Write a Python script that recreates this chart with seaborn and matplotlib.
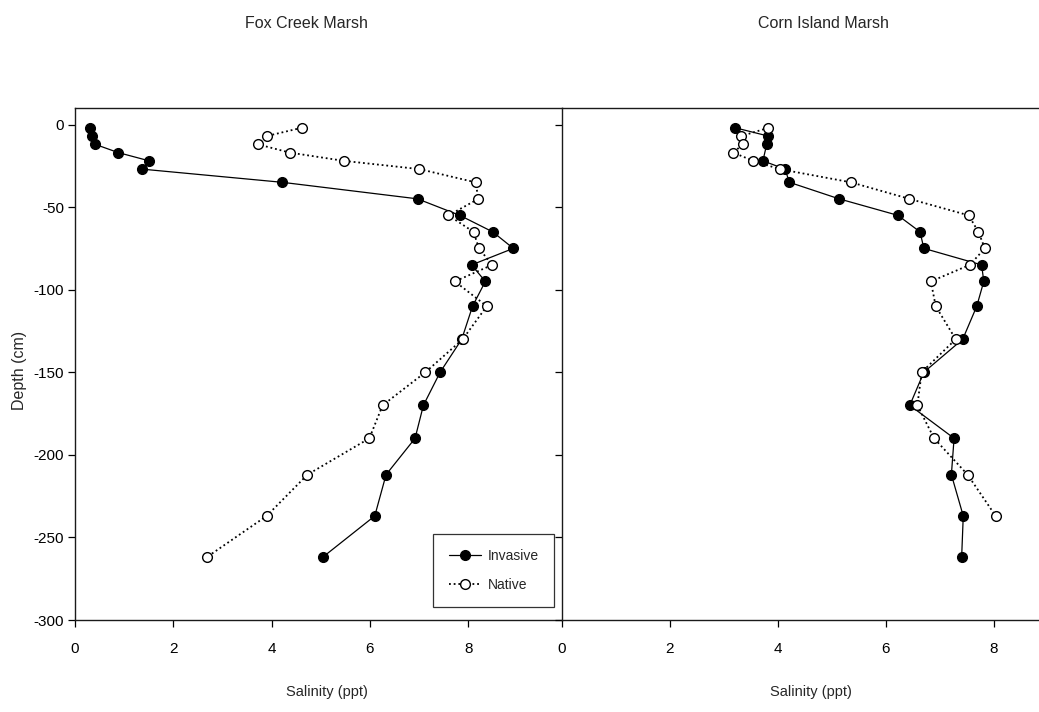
import matplotlib
matplotlib.use("Agg")
import matplotlib.pyplot as plt
from matplotlib import font_manager
from matplotlib.lines import Line2D
import numpy as np
import pandas as pd
import seaborn as sns

# Pore-water salinity profiles (ppt) against depth below surface (cm)
fox_depth = [-2, -7, -12, -17, -22, -27, -35, -45, -55, -65, -75, -85, -95,
             -110, -130, -150, -170, -190, -212, -237, -262]
fox_invasive = [0.30, 0.35, 0.41, 0.88, 1.51, 1.36, 4.22, 6.97, 7.83, 8.50, 8.92,
                8.07, 8.35, 8.09, 7.87, 7.43, 7.09, 6.92, 6.33, 6.10, 5.04]
fox_native = [4.61, 3.90, 3.72, 4.37, 5.47, 7.01, 8.15, 8.21, 7.60, 8.11, 8.22,
              8.49, 7.73, 8.38, 7.89, 7.13, 6.26, 5.99, 4.73, 3.90, 2.68]

corn_inv_depth = [-2, -7, -12, -22, -27, -35, -45, -55, -65, -75, -85, -95,
                  -110, -130, -150, -170, -190, -212, -237, -262]
corn_invasive = [3.22, 3.83, 3.80, 3.73, 4.14, 4.22, 5.14, 6.23, 6.64, 6.71, 7.78,
                 7.82, 7.69, 7.43, 6.71, 6.45, 7.27, 7.22, 7.44, 7.41]
corn_nat_depth = [-2, -7, -12, -17, -22, -27, -35, -45, -55, -65, -75, -85, -95,
                  -110, -130, -150, -170, -190, -212, -237]
corn_native = [3.83, 3.33, 3.36, 3.18, 3.55, 4.04, 5.36, 6.44, 7.54, 7.72, 7.84,
               7.56, 6.84, 6.93, 7.30, 6.67, 6.59, 6.90, 7.52, 8.04]

site_titles = ["Fox Creek Marsh", "Corn Island Marsh"]
series_labels = ["Invasive", "Native"]
x_ticks = [0, 2, 4, 6, 8]
y_ticks = [0, -50, -100, -150, -200, -250, -300]

sns.set_theme(style="white")

available = {f.name for f in font_manager.fontManager.ttflist}
narrow = "Liberation Sans Narrow" if "Liberation Sans Narrow" in available else "Liberation Sans"
plt.rcParams["font.family"] = [narrow, "DejaVu Sans"]

W, H = 1039, 712
fig = plt.figure(figsize=(W / 100, H / 100), dpi=100)


def frac_box(x0, x1, y_top, y_bot):
    return [x0 / W, 1 - y_bot / H, (x1 - x0) / W, (y_bot - y_top) / H]


ax_l = fig.add_axes(frac_box(75, 561.5, 108, 620))
ax_r = fig.add_axes(frac_box(561.5, 1101.5, 108, 620))

line_kw = dict(color="black", marker="o", markersize=7.0,
               markeredgecolor="black", markeredgewidth=1.0)
inv_kw = dict(line_kw, linestyle="-", linewidth=0.9, markerfacecolor="black")
nat_kw = dict(line_kw, linestyle=(0, (1, 1.6)), linewidth=1.3, markerfacecolor="white")


def profile(ax, sal, depth, kw):
    df = pd.DataFrame({"salinity": sal, "depth": depth})
    sns.lineplot(data=df, x="salinity", y="depth", sort=False, estimator=None,
                 ax=ax, legend=False, **kw)


profile(ax_l, fox_invasive, fox_depth, inv_kw)
profile(ax_l, fox_native, fox_depth, nat_kw)
profile(ax_r, corn_invasive, corn_inv_depth, inv_kw)
profile(ax_r, corn_native, corn_nat_depth, nat_kw)

ax_l.set_xlim(0, 9.9)
ax_r.set_xlim(0, 10)
for ax in (ax_l, ax_r):
    ax.set_ylim(-300, 10)
    ax.set_xticks(x_ticks)
    ax.set_yticks(y_ticks)
    ax.set_xlabel("")
    ax.set_ylabel("")
    ax.tick_params(axis="both", direction="out", length=5, width=0.9,
                   color="black", labelsize=11, labelcolor="black",
                   bottom=True, left=True, top=False, right=False)
    ax.tick_params(axis="x", pad=11)
    ax.tick_params(axis="y", pad=3)
    for s in ax.spines.values():
        s.set_color("#1a1a1a")
        s.set_linewidth(1.0)
    ax.set_facecolor("white")

ax_l.set_xticklabels([str(t) for t in x_ticks])
ax_l.set_yticklabels([str(t) for t in y_ticks])
ax_r.set_xticklabels([str(t) for t in x_ticks])
ax_r.set_yticklabels([])
ax_r.spines["right"].set_visible(False)
ax_l.spines["right"].set_visible(False)

# Titles and axis labels
fig.text(306 / W, 1 - 23 / H, site_titles[0], ha="center", va="center", fontsize=11.5)
fig.text(823 / W, 1 - 23 / H, site_titles[1], ha="center", va="center", fontsize=11.5)
fig.text(327 / W, 1 - 692 / H, "Salinity (ppt)", ha="center", va="center", fontsize=10.5)
fig.text(811 / W, 1 - 692 / H, "Salinity (ppt)", ha="center", va="center", fontsize=10.5)
fig.text(20 / W, 1 - 370 / H, "Depth (cm)", ha="center", va="center", rotation=90,
         fontsize=11.5, family=["Liberation Sans", "DejaVu Sans"])

handles = [Line2D([], [], **inv_kw), Line2D([], [], **nat_kw)]
leg = ax_l.legend(handles, series_labels, loc="lower right",
                  bbox_to_anchor=(554 / W, 1 - 607 / H), bbox_transform=fig.transFigure,
                  borderaxespad=0, frameon=True, fancybox=False, fontsize=10,
                  handlelength=2.3, handletextpad=0.5, borderpad=1.1, labelspacing=1.05)
leg.get_frame().set_edgecolor("black")
leg.get_frame().set_linewidth(0.9)

fig.savefig("out.png", dpi=100)
